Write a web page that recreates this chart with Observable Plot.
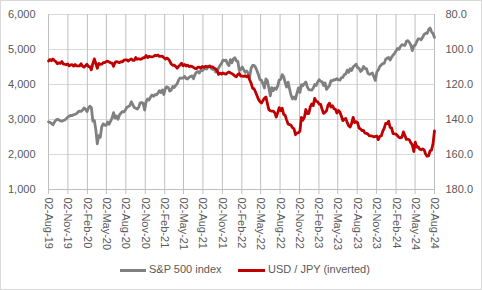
<!DOCTYPE html>
<html><head><meta charset="utf-8">
<script src="https://cdn.jsdelivr.net/npm/d3@7"></script>
<script src="https://cdn.jsdelivr.net/npm/@observablehq/plot@0.6"></script>
<style>
body{margin:0;background:#fff;font-family:"Liberation Sans",Arial,sans-serif;}
#wrap{position:relative;width:482px;height:290px;overflow:hidden;}
#frame{position:absolute;left:0;top:0;width:482px;height:290px;box-sizing:border-box;border:1px solid #d9d9d9;pointer-events:none;}
#chart{position:absolute;left:0;top:0;}
.sw{position:absolute;height:3px;top:269px;}
.lt{position:absolute;top:263px;font-size:11px;color:#595959;line-height:13px;white-space:nowrap;}
</style>
</head><body>
<div id="wrap">
  <div id="chart"></div>
  <div class="sw" style="left:120px;width:26px;background:#808080"></div>
  <div class="lt" style="left:149px">S&amp;P 500 index</div>
  <div class="sw" style="left:238px;width:27px;background:#c00000"></div>
  <div class="lt" style="left:268px">USD / JPY (inverted)</div>
  <div id="frame"></div>
</div>
<script>
// Weekly (Friday) observations starting 02-Aug-2019
const firstWeek = "2019-08-02";

const spx2019 = [2932,2919,2889,2847,2926,2979,3007,2992,2962,2952,2970,2986,3023,3067,3093,3120,3110,3141,3146,3169,3221,3240];
const spx2020 = [3235,3265,3330,3295,3226, 3328,3380,3338,2954, 2972,2711,2305,2541, 2489,2790,2875,2837, 2831,2930,2864,2955,3044, 3194,3041,3098,3009, 3130,3185,3225,3216,3271, 3351,3373,3397,3508, 3427,3341,3319,3298, 3348,3477,3484,3465,3270, 3510,3585,3558,3638, 3699,3663,3709,3703];
const spx2021 = [3756,3825,3768,3841,3714, 3887,3934,3906,3811, 3842,3943,3913,3975, 4020,4129,4185,4180,4181, 4233,4174,4156,4204, 4230,4247,4166,4281, 4352,4370,4327,4412,4395, 4437,4468,4442,4509, 4535,4459,4433,4455, 4357,4391,4471,4545,4605, 4697,4683,4698,4595, 4538,4712,4621,4726,4766];
const spx2022 = [4677,4663,4398,4432, 4501,4419,4349,4385, 4329,4204,4463,4543, 4546,4488,4393,4272,4132, 4123,4024,3901,4158, 4109,3901,3675,3912, 3825,3899,3863,3962,4130, 4145,4280,4228,4058, 3924,4067,3873,3693,3586, 3640,3583,3753,3901, 3771,3993,3965,4026, 4072,3934,3852,3845,3840];
const spx2023 = [3895,3999,3973,4071, 4136,4090,4079,3970, 4046,3862,3917,3971,4109, 4105,4138,4133,4169, 4136,4124,4192,4205, 4282,4299,4410,4348,4450, 4399,4505,4536,4582, 4478,4464,4370,4406, 4516,4457,4450,4320,4288, 4308,4327,4224,4117, 4358,4415,4514,4559, 4595,4604,4719,4755,4770];
const spx2024 = [4697,4784,4840,4891, 4959,5027,5006,5089, 5137,5124,5117,5234,5254, 5204,5123,4967,5100, 5128,5223,5303,5305,5278, 5347,5431,5465,5460, 5567,5615,5505,5459, 5346];

const jpy2019 = [106.6,105.7,106.4,105.4,106.3,106.9,108.1,107.6,107.9,106.9,108.3,108.4,108.7,108.2,109.3,108.8,108.7,109.5,108.6,109.4,109.4,109.4];
const jpy2020 = [108.1,109.5,110.1,109.3,108.4, 109.8,109.8,111.6,107.9, 105.4,108.0,110.8,107.9, 108.5,108.4,107.5,107.5, 106.9,106.7,107.1,107.6,107.8, 109.6,107.4,106.9,107.2, 107.5,106.9,107.0,106.1,105.9, 105.9,106.6,105.8,105.4, 106.2,106.2,104.6,105.6, 105.3,105.6,105.4,104.7,104.7, 103.4,104.6,103.9,104.1, 104.2,104.0,103.3,103.6];
const jpy2021 = [103.2,103.9,103.9,103.8,104.7, 105.4,104.9,105.4,106.6, 108.3,109.0,108.9,109.6, 110.7,109.6,108.8,107.9,109.3, 108.6,109.4,108.9,109.8, 109.5,109.7,110.2,110.8, 111.0,110.1,110.1,110.5,109.7, 110.2,109.6,109.8,109.8, 109.7,109.9,109.9,110.7, 111.0,112.2,114.2,113.5,114.0, 113.4,113.9,114.0,113.4, 112.8,113.4,113.7,114.4,115.1];
const jpy2022 = [115.6,114.2,113.7,115.2, 115.2,115.4,115.0,115.6, 114.8,117.3,119.2,122.1, 122.5,124.3,126.4,128.5,129.8, 130.6,129.2,127.9,127.1, 130.9,134.4,135.0,135.2, 135.2,136.1,138.6,136.1,133.2, 135.0,133.5,137.0,137.6, 140.2,142.6,142.9,143.3,144.7, 145.3,148.7,147.6,147.6, 146.6,138.8,140.4,138.8, 134.3,136.6,136.6,132.8,131.1];
const jpy2023 = [132.1,127.9,129.6,129.9, 131.2,131.4,134.2,136.5, 135.9,135.0,131.8,130.7,132.9, 132.1,133.8,134.2,136.3, 134.8,135.7,138.0,140.6, 139.9,139.4,141.8,143.7,144.3, 142.1,138.8,141.8,141.2, 141.8,144.9,145.4,146.4, 146.2,147.8,147.9,148.4,149.4, 149.3,149.6,149.9,149.7, 149.4,151.5,149.6,149.4, 146.8,144.9,142.2,142.4,141.0];
const jpy2024 = [144.6,144.9,148.1,148.2, 148.4,149.3,150.2,150.5, 150.1,147.1,149.1,151.4,151.3, 151.6,153.3,154.6,158.3, 153.0,155.8,155.6,157.0,157.3, 156.8,157.4,159.8,160.9, 160.8,157.9,157.5,153.8, 146.5];

const spxTicks = [1000,2000,3000,4000,5000,6000];
const jpyTicks = [80,100,120,140,160,180];
const xStart = "2019-08-02", xEnd = "2024-08-02";
const quarterLabelFormat = "%d-%b-%y";

const spx = [].concat(spx2019, spx2020, spx2021, spx2022, spx2023, spx2024);
const jpy = [].concat(jpy2019, jpy2020, jpy2021, jpy2022, jpy2023, jpy2024);
const start = new Date(firstWeek + "T00:00:00Z");
const dates = spx.map((_, i) => d3.utcDay.offset(start, 7 * i));

// secondary (inverted) axis mapped onto primary scale: 80 -> 6000, 180 -> 1000
const jToL = j => 6000 - (j - 80) * 50;
const lToJ = v => (80 + (6000 - v) / 50);

const spxData = spx.map((v, i) => ({date: dates[i], v}));
const jpyData = jpy.map((v, i) => ({date: dates[i], v: jToL(v)}));

const x0 = new Date(xStart + "T00:00:00Z"), x1 = new Date(xEnd + "T00:00:00Z");
const qTicks = d3.range(21).map(i => new Date(Date.UTC(2019, 7 + 3 * i, 2)));
const fmtQ = d3.utcFormat(quarterLabelFormat);

const chart = Plot.plot({
  width: 482, height: 256,
  marginLeft: 48, marginRight: 48, marginTop: 14, marginBottom: 67,
  style: {fontFamily: "Liberation Sans, Arial, sans-serif", fontSize: "11px", color: "#595959", background: "transparent"},
  x: {type: "utc", domain: [x0, x1]},
  y: {domain: [1000, 6000]},
  marks: [
    Plot.gridY(spxTicks, {stroke: "#d9d9d9", strokeOpacity: 1, strokeWidth: 1}),
    Plot.ruleY([1000], {stroke: "#bfbfbf", strokeWidth: 1}),
    Plot.tickX(qTicks, {x: d => d, y1: 1000, y2: 1000, stroke: "#bfbfbf"}),
    Plot.axisX(qTicks, {tickFormat: fmtQ, tickRotate: 90, tickSize: 5, tickPadding: 3, stroke: "#bfbfbf", fill: "#595959", label: null, fontSize: 11}),
    Plot.axisY(spxTicks, {anchor: "left", tickSize: 0, tickPadding: 13, tickFormat: d3.format(","), label: null, fill: "#595959", fontSize: 11}),
    Plot.axisY(jpyTicks.map(jToL), {anchor: "right", tickSize: 0, tickPadding: 11, tickFormat: d => lToJ(d).toFixed(1), label: null, fill: "#595959", fontSize: 11}),
    Plot.line(spxData, {x: "date", y: "v", stroke: "#808080", strokeWidth: 2.8, strokeLinejoin: "round"}),
    Plot.line(jpyData, {x: "date", y: "v", stroke: "#c00000", strokeWidth: 2.8, strokeLinejoin: "round"})
  ]
});
document.getElementById("chart").appendChild(chart);
</script>
</body></html>
